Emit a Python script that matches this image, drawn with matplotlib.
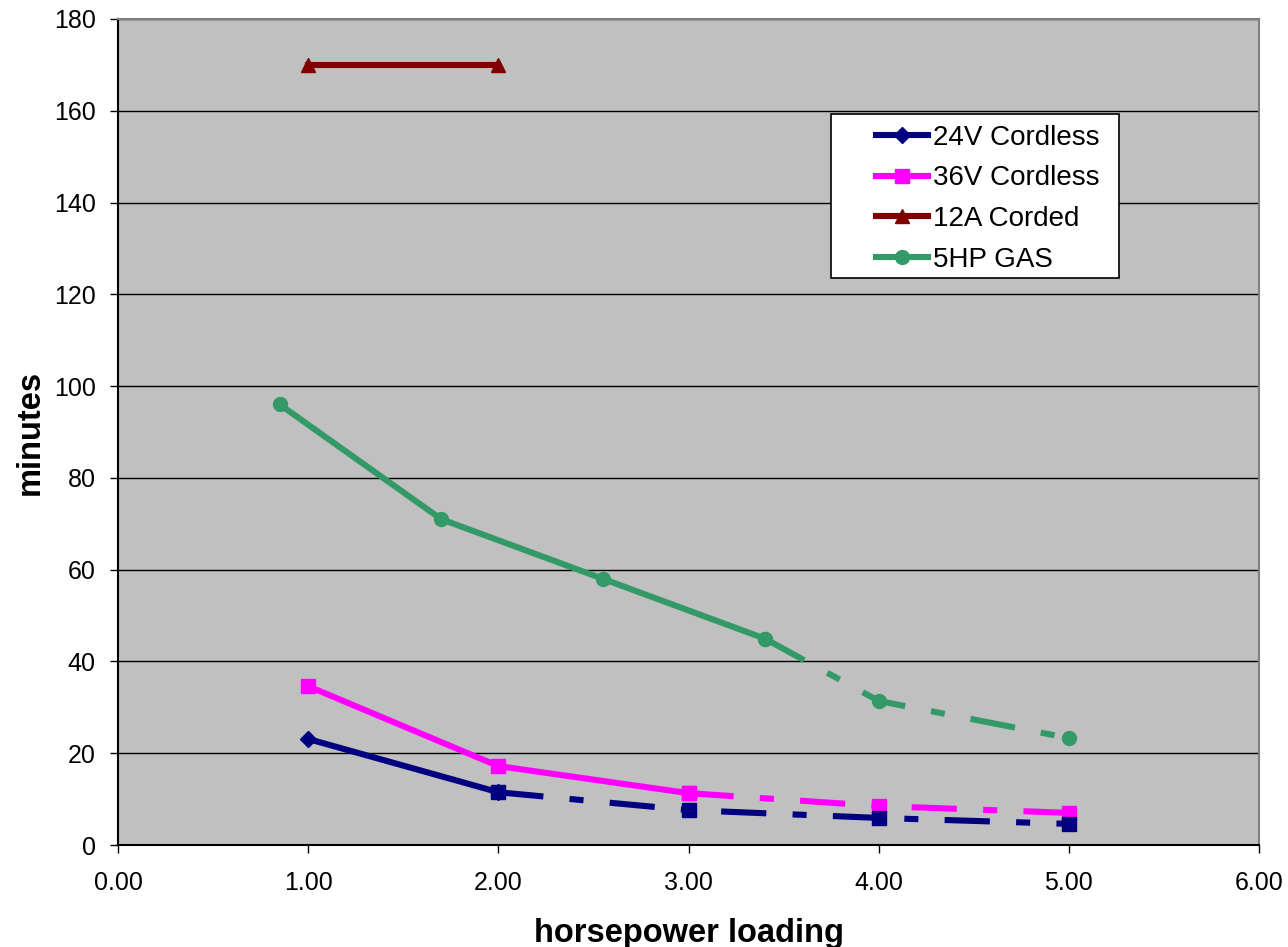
import matplotlib
matplotlib.use("Agg")
import matplotlib.pyplot as plt
from matplotlib.patches import Rectangle

x_24v = [1.0, 2.0]
y_24v = [23.1, 11.5]
x_24v_ext = [2.0, 3.0, 4.0, 5.0]
y_24v_ext = [11.5, 7.6, 5.9, 4.6]

x_36v = [1.0, 2.0, 3.0]
y_36v = [34.6, 17.2, 11.3]
x_36v_ext = [3.0, 4.0, 5.0]
y_36v_ext = [11.3, 8.5, 7.0]

x_12a = [1.0, 2.0]
y_12a = [170.0, 170.0]

x_gas = [0.85, 1.70, 2.55, 3.40]
y_gas = [96.0, 71.0, 58.0, 45.0]
x_gas_ext = [3.40, 4.0, 5.0]
y_gas_ext = [45.0, 31.4, 23.3]

x_ticks = [0, 1, 2, 3, 4, 5, 6]
y_ticks = list(range(0, 181, 20))

plt.rcParams['font.family'] = ['Liberation Sans', 'DejaVu Sans']

fig = plt.figure(figsize=(12.88, 9.47), dpi=100)
ax = fig.add_axes([118/1288, 1 - 845/947, 1141/1288, 826/947])
ax.set_facecolor('#C0C0C0')

lw = 4.4
dashdot = (7.4, 4.3, 2.3, 4.3)
navy = '#000080'
pink = '#FF00FF'
maroon = '#800000'
green = '#339966'

# extrapolated (dash-dot) parts first
ax.plot(x_gas_ext, y_gas_ext, color=green, lw=lw, dashes=dashdot, dash_capstyle='butt',
        marker='o', markersize=10, zorder=3)
ax.plot(x_36v_ext, y_36v_ext, color=pink, lw=lw, dashes=dashdot, dash_capstyle='butt',
        marker='s', markersize=9.5, zorder=3)
ax.plot(x_24v_ext, y_24v_ext, color=navy, lw=lw, dashes=dashdot, dash_capstyle='butt',
        marker='s', markersize=9.5, zorder=3)

ax.plot(x_24v, y_24v, color=navy, lw=lw, marker='D', markersize=8, label='24V Cordless', zorder=4)
ax.plot(x_36v, y_36v, color=pink, lw=lw, marker='s', markersize=9.5, label='36V Cordless', zorder=4)
ax.plot(x_12a, y_12a, color=maroon, lw=lw, marker='^', markersize=10, label='12A Corded', zorder=4)
ax.plot(x_gas, y_gas, color=green, lw=lw, marker='o', markersize=10, label='5HP GAS', zorder=4)

ax.set_xlim(0, 6)
ax.set_ylim(0, 180)
ax.set_xticks(x_ticks)
ax.set_xticklabels([f"{v:.2f}" for v in x_ticks])
ax.set_yticks(y_ticks)
ax.yaxis.grid(True, color='#000000', lw=1.0)
ax.set_axisbelow(True)

for side in ['top', 'right']:
    ax.spines[side].set_color('#808080')
    ax.spines[side].set_linewidth(1.5)
for side in ['left', 'bottom']:
    ax.spines[side].set_color('#000000')
    ax.spines[side].set_linewidth(1.5)

ax.tick_params(axis='both', which='major', labelsize=18, length=6, width=1, direction='out')
ax.tick_params(axis='x', pad=13)
ax.tick_params(axis='y', pad=10)

ax.set_xlabel("horsepower loading", fontsize=23.5, fontweight='bold', labelpad=16)
ax.set_ylabel("minutes", fontsize=23.5, fontweight='bold', labelpad=6)

# legend box drawn by hand so the entries can sit inset like the original
ax.add_patch(Rectangle((0.6249, 0.6864), 0.2524, 0.1986, transform=ax.transAxes,
                       facecolor='white', edgecolor='black', lw=1.2, zorder=9))
leg = ax.legend(loc='upper left', bbox_to_anchor=(0.664, 0.872), borderaxespad=0,
                borderpad=0, fontsize=20, frameon=False, handlelength=1.9,
                handletextpad=0.15, labelspacing=0.53)
leg.set_zorder(10)

plt.savefig("out.png", dpi=100)
plt.close()
